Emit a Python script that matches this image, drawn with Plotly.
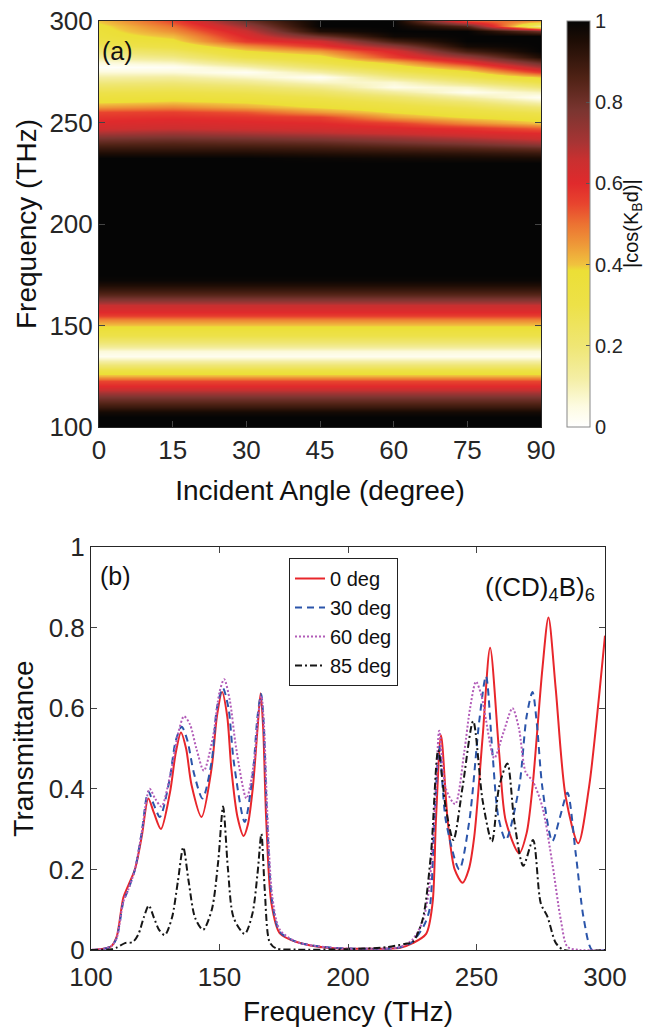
import plotly.graph_objects as go

# ---------------- Panel (a) data: |cos(K_B d)| ----------------
angles = [0, 15, 30, 45, 60, 75, 90]

# lower band (angle independent), 100 ... 230 THz step 2.5
freq_low = [100, 102.5, 105, 107.5, 110, 112.5, 115, 117.5, 120, 122.5, 125, 127.5,
            130, 132.5, 135, 137.5, 140, 142.5, 145, 147.5, 150, 152.5, 155, 157.5,
            160, 162.5, 165, 167.5, 170, 172.5, 175, 177.5, 180, 182.5, 185, 187.5,
            190, 192.5, 195, 197.5, 200, 202.5, 205, 207.5, 210, 212.5, 215, 217.5,
            220, 222.5, 225, 227.5, 230]
val_low = [1, 1, 1, 0.97, 0.9, 0.84, 0.78, 0.68, 0.6, 0.55, 0.42, 0.33,
           0.22, 0.12, 0.03, 0.06, 0.15, 0.22, 0.29, 0.34, 0.39, 0.47, 0.57, 0.62,
           0.66, 0.76, 0.84, 0.9, 0.95, 0.99, 1, 1, 1, 1, 1, 1,
           1, 1, 1, 1, 1, 1, 1, 1, 1, 1, 1, 1,
           1, 1, 1, 1, 1]

# upper band, 232.5 ... 300 THz, columns = angles
freq_high = [232.5, 235, 237.5, 240, 242.5, 245, 247.5, 250, 252.5, 255, 257.5, 260,
             262.5, 265, 267.5, 270, 272.5, 275, 277.5, 280, 282.5, 285, 287.5, 290,
             292.5, 295, 297.5, 300]
val_high = [
    [1.00, 1.00, 1.00, 0.99, 0.98, 0.97, 0.96],
    [0.95, 0.95, 0.95, 0.94, 0.93, 0.92, 0.90],
    [0.90, 0.90, 0.90, 0.89, 0.87, 0.85, 0.82],
    [0.84, 0.85, 0.84, 0.83, 0.80, 0.77, 0.72],
    [0.78, 0.79, 0.78, 0.76, 0.73, 0.69, 0.64],
    [0.70, 0.72, 0.70, 0.68, 0.65, 0.62, 0.60],
    [0.64, 0.65, 0.64, 0.63, 0.61, 0.58, 0.52],
    [0.61, 0.62, 0.61, 0.60, 0.56, 0.47, 0.40],
    [0.58, 0.59, 0.58, 0.56, 0.44, 0.38, 0.34],
    [0.55, 0.56, 0.53, 0.45, 0.38, 0.33, 0.28],
    [0.45, 0.47, 0.43, 0.38, 0.33, 0.28, 0.20],
    [0.38, 0.40, 0.38, 0.34, 0.28, 0.21, 0.10],
    [0.34, 0.35, 0.33, 0.29, 0.22, 0.12, 0.02],
    [0.29, 0.30, 0.28, 0.23, 0.13, 0.03, 0.09],
    [0.24, 0.25, 0.22, 0.16, 0.04, 0.08, 0.20],
    [0.18, 0.19, 0.15, 0.08, 0.07, 0.19, 0.30],
    [0.12, 0.13, 0.08, 0.02, 0.17, 0.28, 0.40],
    [0.06, 0.06, 0.02, 0.12, 0.26, 0.36, 0.57],
    [0.01, 0.02, 0.10, 0.22, 0.34, 0.47, 0.70],
    [0.06, 0.09, 0.20, 0.30, 0.42, 0.60, 0.82],
    [0.13, 0.17, 0.30, 0.36, 0.56, 0.72, 0.95],
    [0.20, 0.25, 0.38, 0.45, 0.62, 0.88, 1.00],
    [0.27, 0.32, 0.46, 0.57, 0.74, 0.97, 1.00],
    [0.32, 0.37, 0.57, 0.64, 0.88, 1.00, 1.00],
    [0.35, 0.41, 0.61, 0.80, 0.98, 1.00, 1.00],
    [0.36, 0.46, 0.65, 0.95, 1.00, 1.00, 0.80],
    [0.37, 0.50, 0.72, 1.00, 1.00, 0.85, 0.15],
    [0.40, 0.55, 0.80, 1.00, 1.00, 0.55, 0.45],
]

# ---------------- Panel (b) data: transmittance curves ----------------
f_0 = [100, 105, 108, 110, 112.6, 114.5, 117.1, 119.7, 122.3, 124.5, 127.2, 130.7, 133, 135,
       137, 139.1, 143, 146.9, 149, 151, 153, 154.6, 157, 159.4, 161, 163, 164.8, 166, 167,
       168.2, 170.2, 173.4, 180, 193, 210, 220, 225.2, 230.4, 232.9, 234.2, 236.2, 238.8,
       241.5, 244.6, 247, 249.1, 252.4, 255.3, 258.8, 261.4, 266.6, 269.5, 271.8, 275.6, 278,
       280.8, 284.7, 289.6, 293.8, 297.7, 300]
T_0 = [0, 0.003, 0.01, 0.033, 0.13, 0.16, 0.2, 0.28, 0.376, 0.34, 0.3, 0.39, 0.49, 0.54,
       0.5, 0.41, 0.33, 0.45, 0.58, 0.64, 0.58, 0.45, 0.33, 0.283, 0.31, 0.405, 0.55, 0.637, 0.55,
       0.32, 0.116, 0.042, 0.02, 0.005, 0.003, 0.005, 0.017, 0.04, 0.116, 0.32, 0.533, 0.32,
       0.2, 0.167, 0.2, 0.28, 0.53, 0.75, 0.49, 0.32, 0.24, 0.29, 0.405, 0.695, 0.825,
       0.65, 0.38, 0.265, 0.405, 0.63, 0.78]

f_30 = [100, 105, 108, 110, 112.6, 114.5, 117.1, 119.7, 122.3, 124.5, 126.8, 130.5, 133, 135.3,
        137.5, 140, 143.4, 147, 149, 151.3, 153.5, 155.5, 159.8, 163, 164.8, 166.2, 167.2, 168.5,
        170.5, 173.5, 180, 193, 210, 220, 225, 229.5, 231.7, 233.6, 235.5, 238.1, 243.3, 247.2,
        251.1, 253.7, 256.2, 258.5, 261.4, 266.6, 269.5, 271.8, 273.5, 275.6, 279.5, 282.5,
        285.4, 288.6, 291.8, 295, 300]
T_30 = [0, 0.003, 0.01, 0.03, 0.12, 0.15, 0.2, 0.29, 0.393, 0.36, 0.33, 0.42, 0.52, 0.554,
        0.52, 0.44, 0.376, 0.47, 0.6, 0.65, 0.6, 0.47, 0.318, 0.44, 0.58, 0.635, 0.56, 0.33,
        0.12, 0.045, 0.02, 0.006, 0.003, 0.006, 0.02, 0.06, 0.1, 0.32, 0.505, 0.32, 0.2, 0.32,
        0.57, 0.68, 0.49, 0.33, 0.273, 0.405, 0.58, 0.64, 0.56, 0.405, 0.27, 0.33,
        0.39, 0.24, 0.075, 0.0, 0.0]

f_60 = [100, 105, 108, 110, 112.6, 114.5, 117.1, 119.7, 122.8, 125, 127.4, 131, 134, 136.2,
        138.5, 141, 143.9, 147.5, 150, 151.8, 154, 156.5, 160.5, 163.5, 165, 166.3, 167.3,
        168.6, 170.6, 173.5, 180, 193, 210, 220, 225, 229, 231.5, 234.2, 235.5, 238.1, 241.7,
        245.2, 247.5, 249.8, 252, 253.7, 256.9, 260.5, 264, 266.5, 269.2, 271.8, 275.6, 279.5,
        282.8, 285.4, 290, 300]
T_60 = [0, 0.003, 0.01, 0.03, 0.12, 0.15, 0.2, 0.29, 0.40, 0.375, 0.356, 0.44, 0.54, 0.58,
        0.56, 0.5, 0.445, 0.53, 0.64, 0.672, 0.62, 0.5, 0.376, 0.47, 0.58, 0.63, 0.56,
        0.34, 0.13, 0.05, 0.02, 0.006, 0.003, 0.007, 0.025, 0.07, 0.15, 0.4, 0.544, 0.4, 0.362,
        0.49, 0.6, 0.666, 0.63, 0.57, 0.476, 0.54, 0.6, 0.55, 0.44, 0.42, 0.356, 0.215,
        0.075, 0.008, 0.0, 0.0]

f_85 = [100, 108, 110, 113.2, 116.3, 118.5, 120.5, 122.5, 124.5, 126.5, 128.7, 131.5, 133.8,
        135.9, 138, 140.5, 143.6, 147, 149.5, 151.4, 153.3, 155.5, 159.8, 162.8, 164.8, 166.3,
        167.6, 169.5, 172, 180, 200, 215, 222, 225.2, 229, 232.3, 235.1, 238.1, 241, 244.6,
        248.7, 252.4, 256, 258.8, 262, 264.7, 268.2, 272, 275, 277.6, 280.9, 284, 300]
T_85 = [0, 0.002, 0.006, 0.017, 0.02, 0.04, 0.08, 0.11, 0.08, 0.05, 0.037, 0.08, 0.17,
        0.255, 0.17, 0.08, 0.05, 0.1, 0.22, 0.356, 0.2, 0.08, 0.04, 0.09, 0.19, 0.288,
        0.15, 0.02, 0.004, 0.001, 0.002, 0.007, 0.015, 0.02, 0.075, 0.24, 0.496, 0.35, 0.273,
        0.405, 0.568, 0.37, 0.269, 0.405, 0.463, 0.32, 0.209, 0.273, 0.116, 0.083, 0.017, 0.0, 0.0]

angle_ticks = [0, 15, 30, 45, 60, 75, 90]
freq_ticks_a = [100, 150, 200, 250, 300]
freq_ticks_b = [100, 150, 200, 250, 300]
trans_ticks = [0, 0.2, 0.4, 0.6, 0.8, 1]
trans_labels = ["0", "0.2", "0.4", "0.6", "0.8", "1"]
cbar_ticks = [0, 0.2, 0.4, 0.6, 0.8, 1]
cbar_labels = ["0", "0.2", "0.4", "0.6", "0.8", "1"]

# ---------------- build ----------------
freqs = freq_low + freq_high
z = [[v] * len(angles) for v in val_low] + val_high

colorscale = [
    [0.00, "#ffffff"], [0.05, "#fdfbe2"], [0.12, "#f4eea4"], [0.20, "#efe674"],
    [0.30, "#ede148"], [0.385, "#ecdf36"], [0.40, "#f0c23e"], [0.45, "#ee9838"],
    [0.50, "#ec7232"], [0.55, "#e8442e"], [0.60, "#e02a2c"], [0.66, "#c83030"],
    [0.70, "#a83434"], [0.78, "#7a3530"], [0.86, "#4f2215"], [0.95, "#1e0d05"],
    [1.00, "#050505"],
]

W, H = 647, 1030
def px(x): return x / W
def py(y): return 1 - y / H

FONT = "Liberation Sans, Arial, Helvetica, sans-serif"
TICKC = "#262626"
TXT = "#111111"

fig = go.Figure()
fig.add_trace(go.Heatmap(
    x=angles, y=freqs, z=z, zmin=0, zmax=1, zsmooth="best",
    colorscale=colorscale, xaxis="x", yaxis="y", showscale=True,
    colorbar=dict(
        x=px(567), xanchor="left", xref="paper",
        y=py(224), yanchor="middle", len=406 / H, lenmode="fraction",
        thickness=23, thicknessmode="pixels", xpad=0, ypad=0,
        outlinewidth=1, outlinecolor="#888888",
        tickvals=cbar_ticks, ticktext=cbar_labels,
        ticks="inside", ticklen=4, tickcolor="#555555",
        tickfont=dict(size=20, color=TICKC, family=FONT),
    ),
))

line_styles = [
    ("0 deg", f_0, T_0, "#e8262b", "solid"),
    ("30 deg", f_30, T_30, "#2b55aa", "7px,5px"),
    ("60 deg", f_60, T_60, "#b25cb8", "2px,2px"),
    ("85 deg", f_85, T_85, "#161616", "7px,3px,2px,3px"),
]
for name, fx, ty, col, dash in line_styles:
    fig.add_trace(go.Scatter(
        x=fx, y=ty, mode="lines", name=name, xaxis="x2", yaxis="y2",
        line=dict(color=col, width=2, dash=dash, shape="spline", smoothing=0.8),
    ))

axis_common = dict(
    showline=True, mirror="ticks", linecolor="#262626", linewidth=1,
    ticks="inside", ticklen=6, tickcolor="#444444", tickwidth=1,
    showgrid=False, zeroline=False, automargin=False,
    tickfont=dict(size=26, color=TICKC, family=FONT),
)

fig.update_layout(
    width=W, height=H,
    margin=dict(l=0, r=0, t=0, b=0, autoexpand=False),
    paper_bgcolor="white", plot_bgcolor="white",
    font=dict(family=FONT, color=TXT),
    xaxis=dict(domain=[px(99), px(541)], range=[0, 90], tickvals=angle_ticks,
               anchor="y",
               title=dict(text="Incident Angle (degree)", standoff=16,
                          font=dict(size=28, color=TXT, family=FONT)),
               **axis_common),
    yaxis=dict(domain=[py(427), py(21)], range=[100, 300], tickvals=freq_ticks_a,
               anchor="x",
               title=dict(text="Frequency (THz)", standoff=4,
                          font=dict(size=28, color=TXT, family=FONT)),
               **axis_common),
    xaxis2=dict(domain=[px(91), px(605)], range=[100, 300], tickvals=freq_ticks_b,
                anchor="y2", ticklabelstandoff=4,
                title=dict(text="Frequency (THz)", standoff=10,
                           font=dict(size=28, color=TXT, family=FONT)),
                **axis_common),
    yaxis2=dict(domain=[py(950), py(547)], range=[0, 1], tickvals=trans_ticks,
                ticktext=trans_labels,
                anchor="x2",
                title=dict(text="Transmittance", standoff=6,
                           font=dict(size=28, color=TXT, family=FONT)),
                **axis_common),
    legend=dict(x=px(289), y=py(558), xanchor="left", yanchor="top",
                bgcolor="white", bordercolor="#222222", borderwidth=1,
                font=dict(size=20, color=TXT, family=FONT),
                tracegroupgap=0, itemwidth=30),
    showlegend=True,
    annotations=[
        dict(text="(a)", x=px(100), y=py(51), xref="paper", yref="paper",
             xanchor="left", yanchor="middle", showarrow=False,
             font=dict(size=25, color=TXT, family=FONT)),
        dict(text="(b)", x=px(98), y=py(576), xref="paper", yref="paper",
             xanchor="left", yanchor="middle", showarrow=False,
             font=dict(size=25, color=TXT, family=FONT)),
        dict(text="((CD)<sub>4</sub>B)<sub>6</sub>", x=px(597), y=py(588), xref="paper", yref="paper",
             xanchor="right", yanchor="middle", showarrow=False,
             font=dict(size=26, color=TXT, family=FONT)),
        dict(text="|cos(K<sub>B</sub>d)|", x=px(633), y=py(224), xref="paper", yref="paper",
             xanchor="center", yanchor="middle", textangle=-90, showarrow=False,
             font=dict(size=20, color=TXT, family=FONT)),
    ],
)

fig.write_html("out.html", config={"displayModeBar": False},
               post_script="document.body.style.margin='0';document.body.style.padding='0';")
